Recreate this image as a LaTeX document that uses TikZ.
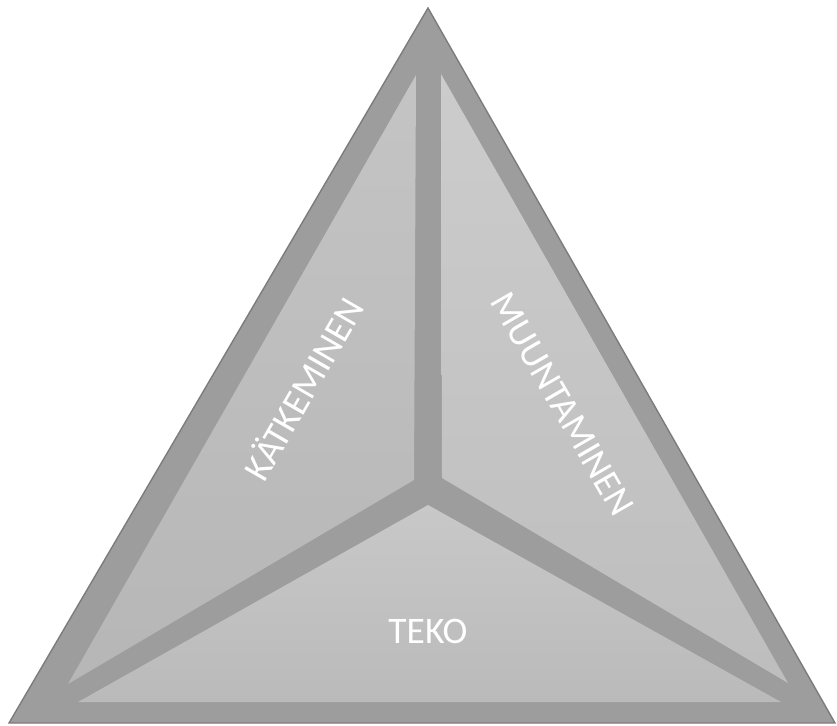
\documentclass[tikz,border=0pt]{standalone}
\usepackage{fontspec}
\setmainfont{Carlito}
\usetikzlibrary{positioning,calc}

\definecolor{bandgray}{HTML}{9D9D9D}
\definecolor{edgegray}{HTML}{7C7C7C}
\definecolor{leftface}{HTML}{C4C4C4}
\definecolor{rightface}{HTML}{CCCCCC}
\definecolor{lowface}{HTML}{C8C8C8}

\begin{document}
\begin{tikzpicture}[x=0.03cm,y=-0.03cm,
  face/.style={top color=#1!100,bottom color=#1!93!black},
  sidetext/.style={text=white,inner sep=0pt,font=\fontsize{32}{36}\selectfont}]
\useasboundingbox (0,0) rectangle (837,726);
% outer band
\coordinate (top) at (428,8);
\coordinate (bl) at (9,723);
\coordinate (br) at (835,723);
\draw[edgegray,fill=bandgray,line width=1.2pt,line join=miter] (top)--(bl)--(br)--cycle;
% the three faces
\shade[face=leftface] (416,75)--(414,480)--(68,684)--cycle;
\shade[face=rightface] (441,74)--(442,478)--(788,683)--cycle;
\shade[face=lowface] (428,505)--(78,702)--(781,702)--cycle;
% labels
\node[sidetext,rotate=60] (hide) at (302,388) {KÄTKEMINEN};
\node[sidetext,rotate=-60] (change) at (562,404) {MUUNTAMINEN};
\node[sidetext] (deed) at (428,631) {TEKO};
\end{tikzpicture}
\end{document}
